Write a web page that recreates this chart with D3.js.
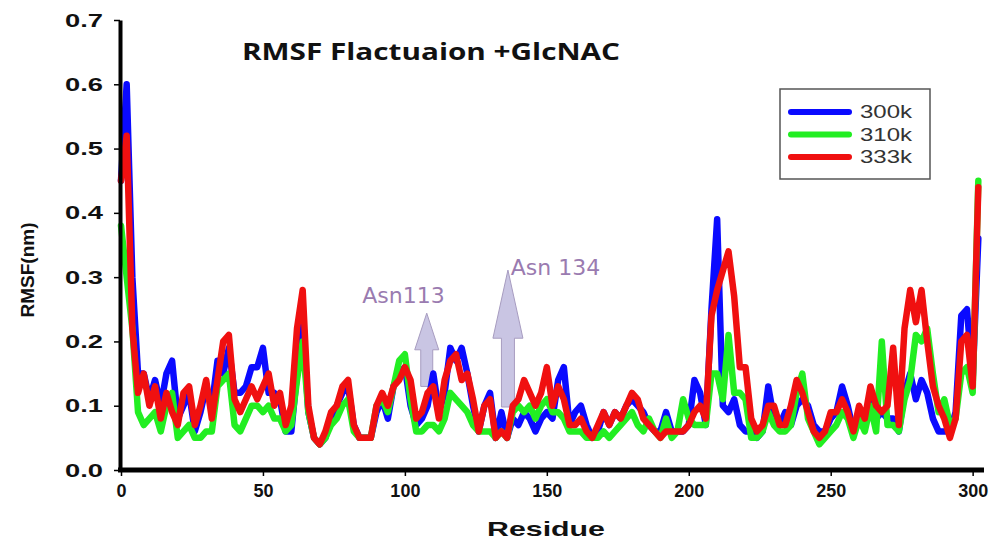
<!DOCTYPE html>
<html>
<head>
<meta charset="utf-8">
<script src="https://cdn.jsdelivr.net/npm/d3@7"></script>
<style>
  body { margin: 0; background: #fff; }
  svg { display: block; }
</style>
</head>
<body>
<svg id="chart" width="995" height="544"></svg>
<script>
// Residue index (every 2nd residue)
const residues = d3.range(0, 303, 2);

// RMSF values (nm)
const rmsf300 = [
  0.45, 0.60, 0.30, 0.15, 0.15, 0.11, 0.14, 0.10, 0.15, 0.17,
  0.08, 0.10, 0.12, 0.06, 0.09, 0.13, 0.10, 0.17, 0.15, 0.19,
  0.12, 0.12, 0.13, 0.16, 0.16, 0.19, 0.12, 0.12, 0.11, 0.06,
  0.06, 0.15, 0.23, 0.09, 0.05, 0.04, 0.05, 0.08, 0.10, 0.12,
  0.13, 0.07, 0.05, 0.05, 0.05, 0.09, 0.11, 0.08, 0.13, 0.15,
  0.16, 0.10, 0.07, 0.08, 0.10, 0.15, 0.09, 0.12, 0.19, 0.17,
  0.19, 0.15, 0.10, 0.06, 0.10, 0.12, 0.05, 0.09, 0.05, 0.08,
  0.07, 0.09, 0.08, 0.06, 0.08, 0.09, 0.08, 0.14, 0.16, 0.07,
  0.09, 0.10, 0.07, 0.05, 0.06, 0.09, 0.07, 0.09, 0.08, 0.10,
  0.11, 0.10, 0.09, 0.07, 0.06, 0.06, 0.09, 0.06, 0.06, 0.06,
  0.07, 0.14, 0.12, 0.07, 0.25, 0.39, 0.10, 0.09, 0.11, 0.07,
  0.06, 0.06, 0.05, 0.06, 0.13, 0.08, 0.07, 0.09, 0.07, 0.10,
  0.11, 0.10, 0.07, 0.06, 0.06, 0.08, 0.09, 0.13, 0.10, 0.06,
  0.08, 0.07, 0.12, 0.08, 0.09, 0.08, 0.08, 0.06, 0.12, 0.15,
  0.11, 0.14, 0.12, 0.08, 0.06, 0.06, 0.06, 0.09, 0.24, 0.25,
  0.14, 0.36
];
const rmsf310 = [
  0.38, 0.30, 0.22, 0.09, 0.07, 0.08, 0.09, 0.06, 0.10, 0.12,
  0.05, 0.06, 0.07, 0.05, 0.05, 0.06, 0.06, 0.13, 0.14, 0.15,
  0.07, 0.06, 0.08, 0.10, 0.10, 0.09, 0.10, 0.08, 0.08, 0.06,
  0.07, 0.14, 0.20, 0.09, 0.05, 0.04, 0.05, 0.07, 0.08, 0.10,
  0.11, 0.06, 0.05, 0.05, 0.05, 0.10, 0.11, 0.09, 0.13, 0.17,
  0.18, 0.11, 0.06, 0.06, 0.07, 0.07, 0.06, 0.08, 0.12, 0.11,
  0.10, 0.09, 0.07, 0.06, 0.06, 0.06, 0.05, 0.06, 0.05, 0.09,
  0.10, 0.09, 0.10, 0.08, 0.10, 0.11, 0.09, 0.09, 0.08, 0.06,
  0.06, 0.06, 0.05, 0.05, 0.05, 0.06, 0.05, 0.06, 0.07, 0.08,
  0.09, 0.07, 0.06, 0.08, 0.06, 0.05, 0.08, 0.05, 0.06, 0.11,
  0.08, 0.07, 0.07, 0.07, 0.15, 0.15, 0.11, 0.21, 0.12, 0.12,
  0.11, 0.05, 0.05, 0.06, 0.09, 0.07, 0.06, 0.06, 0.07, 0.12,
  0.15, 0.08, 0.06, 0.04, 0.05, 0.06, 0.07, 0.09, 0.08, 0.05,
  0.08, 0.06, 0.10, 0.06, 0.20, 0.07, 0.07, 0.06, 0.11, 0.14,
  0.21, 0.20, 0.22, 0.15, 0.09, 0.11, 0.07, 0.08, 0.15, 0.16,
  0.12, 0.45
];
const rmsf333 = [
  0.45, 0.52, 0.22, 0.12, 0.15, 0.10, 0.13, 0.08, 0.12, 0.09,
  0.07, 0.12, 0.13, 0.07, 0.10, 0.14, 0.08, 0.14, 0.20, 0.21,
  0.11, 0.09, 0.11, 0.13, 0.11, 0.13, 0.15, 0.10, 0.12, 0.07,
  0.10, 0.22, 0.28, 0.10, 0.05, 0.04, 0.06, 0.09, 0.10, 0.13,
  0.14, 0.07, 0.05, 0.05, 0.05, 0.10, 0.12, 0.10, 0.13, 0.14,
  0.16, 0.14, 0.08, 0.09, 0.12, 0.13, 0.08, 0.14, 0.17, 0.18,
  0.14, 0.15, 0.11, 0.06, 0.10, 0.11, 0.05, 0.06, 0.05, 0.10,
  0.11, 0.14, 0.12, 0.10, 0.12, 0.16, 0.10, 0.13, 0.11, 0.07,
  0.07, 0.08, 0.06, 0.05, 0.07, 0.09, 0.07, 0.09, 0.08, 0.10,
  0.12, 0.11, 0.08, 0.07, 0.06, 0.05, 0.06, 0.06, 0.06, 0.06,
  0.07, 0.09, 0.10, 0.08, 0.24, 0.28, 0.31, 0.34, 0.27, 0.16,
  0.16, 0.08, 0.06, 0.07, 0.10, 0.10, 0.07, 0.07, 0.10, 0.14,
  0.12, 0.09, 0.06, 0.05, 0.06, 0.09, 0.09, 0.11, 0.09, 0.06,
  0.10, 0.08, 0.13, 0.10, 0.09, 0.10, 0.19, 0.07, 0.22, 0.28,
  0.23, 0.28, 0.20, 0.13, 0.10, 0.08, 0.05, 0.08, 0.20, 0.21,
  0.13, 0.44
];

const seriesNames = ['300k', '310k', '333k'];
const seriesColors = ['#0a0aff', '#22ee22', '#f01010'];
const seriesValues = [rmsf300, rmsf310, rmsf333];

const yTicks = [0.0, 0.1, 0.2, 0.3, 0.4, 0.5, 0.6, 0.7];
const xTicks = [0, 50, 100, 150, 200, 250, 300];

// Annotation arrows: residue position, tail / head-base / tip values
const annotations = [
  {label: 'Asn113', labelRes: 85, labelVal: 0.26, res: 107.7, base: 0.13, neck: 0.187, tip: 0.244, head: 12, shaft: 6},
  {label: 'Asn 134', labelRes: 137.3, labelVal: 0.303, res: 136.3, base: 0.098, neck: 0.205, tip: 0.311, head: 15, shaft: 6.5}
];

const svg = d3.select('#chart');

const x = d3.scaleLinear().domain([0, 304]).range([121, 984]);
const y = d3.scaleLinear().domain([0, 0.7]).range([470, 20]);

// Title
svg.append('text')
    .attr('x', 242)
    .attr('y', 60)
    .attr('textLength', 378)
    .attr('lengthAdjust', 'spacingAndGlyphs')
    .style('font-family', '"Open Sans", sans-serif')
    .style('font-weight', 'bold')
    .style('font-size', '23px')
    .style('fill', '#111')
    .text('RMSF Flactuaion +GlcNAC');

// Arrows (behind lines)
annotations.forEach(a => {
    const cx = x(a.res);
    const pts = [
        [cx - a.shaft, y(a.base)],
        [cx - a.shaft, y(a.neck)],
        [cx - a.head, y(a.neck)],
        [cx, y(a.tip)],
        [cx + a.head, y(a.neck)],
        [cx + a.shaft, y(a.neck)],
        [cx + a.shaft, y(a.base)]
    ];
    svg.append('path')
        .attr('d', d3.line()(pts) + 'Z')
        .style('fill', '#c9c5e3')
        .style('stroke', '#a79cc0')
        .style('stroke-width', 1);

    svg.append('text')
        .attr('x', x(a.labelRes))
        .attr('y', y(a.labelVal))
        .style('font-family', '"DejaVu Sans", sans-serif')
        .style('font-size', '22px')
        .style('fill', '#9a7bb0')
        .text(a.label);
});

// Lines
const line = d3.line()
    .x((d, i) => x(residues[i]))
    .y(d => y(d));

seriesValues.forEach((vals, i) => {
    svg.append('path')
        .datum(vals)
        .attr('d', line)
        .style('fill', 'none')
        .style('stroke', seriesColors[i])
        .style('stroke-width', 6.5)
        .style('stroke-linejoin', 'round')
        .style('stroke-linecap', 'round');
});

// Y axis
const yAxis = svg.append('g')
    .attr('transform', 'translate(120,0)')
    .call(d3.axisLeft(y).tickValues(yTicks).tickFormat(d3.format('.1f')).tickSize(6).tickSizeOuter(0));
yAxis.select('.domain').style('stroke', '#000').style('stroke-width', 4);
yAxis.selectAll('.tick line').style('stroke', '#000').style('stroke-width', 1.5);
yAxis.selectAll('.tick text')
    .attr('x', -17)
    .attr('textLength', 38)
    .attr('lengthAdjust', 'spacingAndGlyphs')
    .style('font-family', '"Liberation Sans", Arial, sans-serif')
    .style('font-weight', 'bold')
    .style('font-size', '19px')
    .style('fill', '#111');

// X axis
const xAxis = svg.append('g')
    .attr('transform', 'translate(0,470)')
    .call(d3.axisBottom(x).tickValues(xTicks).tickSize(6).tickSizeOuter(0));
xAxis.select('.domain').style('stroke', '#000').style('stroke-width', 5).attr('d', `M118,0H${x(304)}`);
xAxis.selectAll('.tick line').style('stroke', '#000').style('stroke-width', 1.5);
xAxis.selectAll('.tick text')
    .attr('y', 14)
    .style('font-family', '"Liberation Sans", Arial, sans-serif')
    .style('font-weight', 'bold')
    .style('font-size', '18px')
    .style('fill', '#111');

// Axis titles
svg.append('text')
    .attr('transform', 'translate(34,270) rotate(-90)')
    .attr('text-anchor', 'middle')
    .style('font-family', '"Liberation Sans", Arial, sans-serif')
    .style('font-weight', 'bold')
    .style('font-size', '19px')
    .style('fill', '#111')
    .text('RMSF(nm)');

svg.append('text')
    .attr('x', 487)
    .attr('y', 536)
    .attr('textLength', 118)
    .attr('lengthAdjust', 'spacingAndGlyphs')
    .style('font-family', '"Liberation Sans", Arial, sans-serif')
    .style('font-weight', 'bold')
    .style('font-size', '21px')
    .style('fill', '#111')
    .text('Residue');

// Legend
const legend = svg.append('g').attr('transform', 'translate(780,89)');
legend.append('rect')
    .attr('width', 150)
    .attr('height', 90)
    .style('fill', '#fff')
    .style('stroke', '#555')
    .style('stroke-width', 1.5);

seriesNames.forEach((name, i) => {
    const row = legend.append('g').attr('transform', `translate(0,${23 + i * 22.5})`);
    row.append('line')
        .attr('x1', 11).attr('x2', 69)
        .style('stroke', seriesColors[i])
        .style('stroke-width', 6)
        .style('stroke-linecap', 'round');
    row.append('text')
        .attr('x', 80)
        .attr('y', 6)
        .attr('textLength', 52)
        .attr('lengthAdjust', 'spacingAndGlyphs')
        .style('font-family', '"Liberation Sans", Arial, sans-serif')
        .style('font-size', '18px')
        .style('fill', '#333')
        .text(name);
});
</script>
</body>
</html>
